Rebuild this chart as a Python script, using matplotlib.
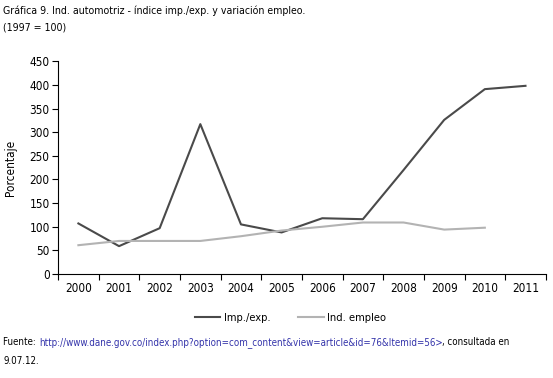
import matplotlib
matplotlib.use("Agg")
import matplotlib.pyplot as plt
import numpy as np

years = ["2000", "2001", "2002", "2003", "2004", "2005",
         "2006", "2007", "2008", "2009", "2010", "2011"]
imp_exp = [107, 59, 97, 317, 105, 88, 118, 116, 220, 326, 391, 398]
ind_empleo = [61, 70, 70, 70, 80, 92, 100, 109, 109, 94, 98]

plt.rcParams['font.family'] = ['DejaVu Sans']
plt.rcParams['font.stretch'] = 'condensed'

fig = plt.figure(figsize=(5.53, 3.78), dpi=100)
ax = fig.add_axes([0.105, 0.275, 0.882, 0.563])

x = np.arange(len(years))
line1, = ax.plot(x, imp_exp, color="#4a4a4a", lw=1.5, label="Imp./exp.")
line2, = ax.plot(x[:len(ind_empleo)], ind_empleo, color="#b3b3b3", lw=1.5, label="Ind. empleo")

ax.set_xlim(-0.5, len(years) - 0.5)
ax.set_ylim(0, 450)
ax.set_yticks(range(0, 451, 50))
ax.set_xticks(x)
ax.set_xticklabels(years)
ax.set_xticks(np.arange(-0.5, len(years), 1.0), minor=True)
ax.tick_params(axis="x", which="major", length=0, pad=6, labelsize=8.5)
ax.tick_params(axis="x", which="minor", length=4, width=0.8, direction="out")
ax.tick_params(axis="y", length=4, width=0.8, labelsize=8.5, pad=2)
for s in ["top", "right"]:
    ax.spines[s].set_visible(False)
ax.spines["left"].set_linewidth(0.8)
ax.spines["bottom"].set_linewidth(0.8)
ax.set_ylabel("Porcentaje", fontsize=8.5, labelpad=9)

fig.legend(handles=[line1, line2], loc="center", bbox_to_anchor=(0.525, 0.158),
           ncol=2, frameon=False, fontsize=8, handlelength=2.3,
           handletextpad=0.3, columnspacing=2.5)

fig.text(0.006, 0.985, "Gráfica 9. Ind. automotriz - índice imp./exp. y variación empleo.",
         fontsize=7.6, va="top")
fig.text(0.006, 0.94, "(1997 = 100)", fontsize=7.6, va="top")

# source line with blue url
renderer = fig.canvas.get_renderer()
fs = 7.0
t1 = fig.text(0.006, 0.088, "Fuente: ", fontsize=fs, va="baseline")
w1 = t1.get_window_extent(renderer).width / fig.bbox.width
t2 = fig.text(0.006 + w1, 0.088,
              "http://www.dane.gov.co/index.php?option=com_content&view=article&id=76&Itemid=56>",
              fontsize=fs, va="baseline", color="#3333aa")
w2 = t2.get_window_extent(renderer).width / fig.bbox.width
fig.text(0.006 + w1 + w2, 0.088, ", consultada en", fontsize=fs, va="baseline")
fig.text(0.006, 0.036, "9.07.12.", fontsize=fs, va="baseline")

fig.savefig("out.png", dpi=100)
